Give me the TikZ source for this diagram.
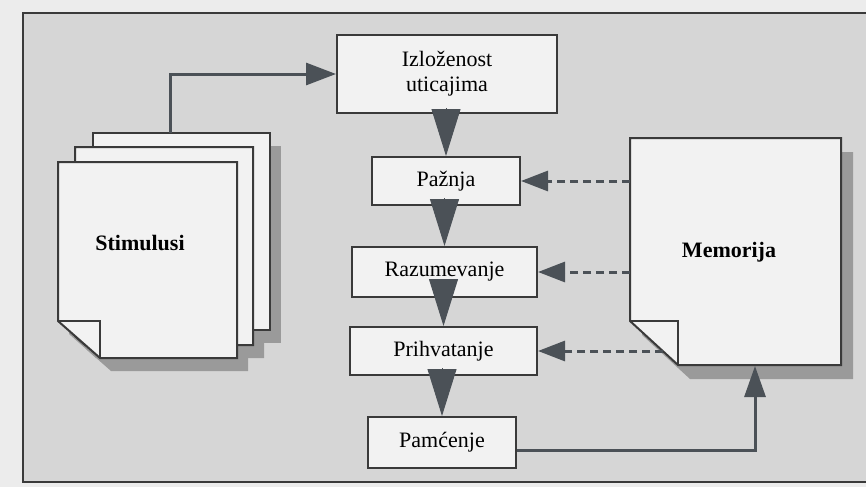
\documentclass[tikz,border=0pt]{standalone}
\usepackage{fontspec}
\setmainfont{Liberation Serif}
\usetikzlibrary{arrows.meta,calc}
\definecolor{outerbg}{HTML}{ECECEC}
\definecolor{innerbg}{HTML}{D6D6D6}
\definecolor{boxfill}{HTML}{F2F2F2}
\definecolor{linec}{HTML}{3A3A3A}
\definecolor{arrc}{HTML}{4B5157}
\definecolor{shadowc}{HTML}{9A9A9A}
\tikzset{
  box/.style={draw=linec, fill=boxfill, line width=2pt, inner sep=0pt, align=center,
    font=\fontsize{22}{25}\selectfont},
  page/.style={draw=linec, fill=boxfill, line width=2pt, line join=miter},
  pageshadow/.style={fill=shadowc},
  conn/.style={draw=arrc, line width=3pt, -{Triangle[length=30pt,width=22pt]}},
  upconn/.style={draw=arrc, line width=3pt, -{Triangle[length=31pt,width=21pt]}},
  dconn/.style={draw=arrc, line width=3pt, dash pattern=on 8pt off 5pt, -{Triangle[length=27pt,width=20pt]}},
  bigtri/.style={draw=arrc, line width=1pt, -{Triangle[length=47pt,width=29pt]}},
  boldlabel/.style={font=\fontsize{22}{25}\selectfont\bfseries, inner sep=0pt}
}
\begin{document}
\begin{tikzpicture}[x=1pt,y=-1pt]
\useasboundingbox (0,0) rectangle (866,487);
\fill[outerbg] (0,0) rectangle (866,487);
\fill[innerbg] (23,13) rectangle (866,482);
\draw[linec, line width=2.5pt] (866,13) -- (23,13) -- (23,482) -- (866,482);

% central boxes
\node[box, minimum width=220pt, minimum height=78pt] (izl) at (447,74) {Izloženost\\uticajima};
\node[box, minimum width=148pt, minimum height=48pt] (paz) at (446,181) {Pažnja};
\node[box, minimum width=185pt, minimum height=50pt] (raz) at (444.5,272) {Razumevanje};
\node[box, minimum width=187pt, minimum height=48pt] (pri) at (443.5,351) {Prihvatanje};
\node[box, minimum width=148pt, minimum height=51pt] (pam) at (442,442.5) {Pamćenje};

% big triangles
\draw[bigtri] ($(paz.north)+(0,-48)$) -- (paz.north);
\draw[bigtri] ($(raz.north)+(0,-48)$) -- (raz.north);
\draw[bigtri] ($(pri.north)+(0,-46)$) -- (pri.north);
\draw[bigtri] ($(pam.north)+(0,-48)$) -- (pam.north);

% Stimulusi stack: shadows
\fill[pageshadow] (104,146) rectangle (281,343);
\fill[pageshadow] (86,160) -- (264,160) -- (264,358) -- (96,358) -- (86,349) -- cycle;
\fill[pageshadow] (69,175) -- (248,175) -- (248,371) -- (111,371) -- (69,334) -- cycle;
% pages
\draw[page] (93,133) rectangle (270,330);
\draw[page] (75,147) -- (253,147) -- (253,345) -- (85,345) -- (75,336) -- cycle;
\draw[page] (58,162) -- (237,162) -- (237,358) -- (100,358) -- (58,321) -- cycle;
\draw[linec, line width=2pt] (58,321) -- (100,321) -- (100,358);
\node[boldlabel] (stim) at (140,243) {Stimulusi};
\coordinate (stimtop) at (170,133);

% Memorija
\fill[pageshadow] (642,152) -- (853,152) -- (853,379) -- (690,379) -- (642,335) -- cycle;
\draw[page] (630,138) -- (841,138) -- (841,365) -- (678,365) -- (630,321) -- cycle;
\draw[linec, line width=2pt] (630,321) -- (678,321) -- (678,365);
\node[boldlabel] (mem) at (729,252) {Memorija};
\coordinate (m1) at (630,181);
\coordinate (m2) at (630,272);
\coordinate (m3) at (663,351);
\coordinate (mb) at (755,366);

% connectors
\draw[conn] (stimtop) |- (izl.west);
\draw[dconn] (m1) -- (paz.east);
\draw[dconn] (m2) -- (raz.east);
\draw[dconn] (m3) -- (pri.east);
\draw[upconn] ([yshift=-7.5pt]pam.east) -| (mb);
\end{tikzpicture}
\end{document}
